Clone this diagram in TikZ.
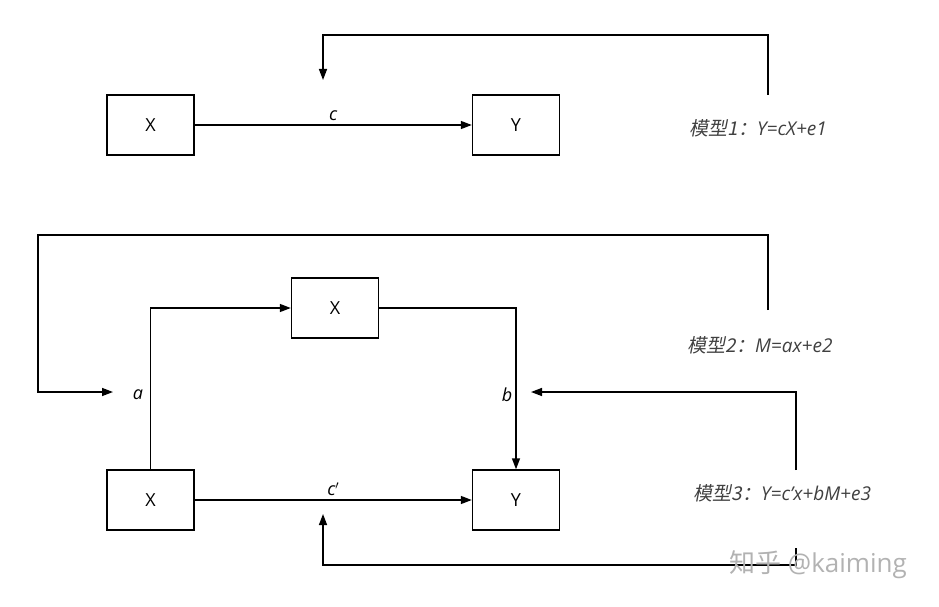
\documentclass[tikz,border=0pt]{standalone}
\usepackage{fontspec}
\setmainfont{Open Sans}
\newfontfamily\cjk{Noto Sans CJK SC}
\newfontfamily\cjkit[FakeSlant=0.2]{Noto Sans CJK SC}
\usetikzlibrary{arrows.meta}
\begin{document}
\begin{tikzpicture}[x=1pt,y=-1pt,
 box/.style={draw,line width=1.4pt,minimum width=87pt,minimum height=60pt,font=\fontsize{18}{18}\selectfont},
 arr/.style={line width=1.4pt,-{Triangle[length=11pt,width=8pt]}},
 lab/.style={font=\fontsize{18}{18}\selectfont\itshape},
 mod/.style={font=\fontsize{19}{19}\selectfont\itshape,text=black!75}]
\useasboundingbox (0,0) rectangle (939,607);
\node[box] (x1) at (150.5,125) {X};
\node[box] (y1) at (516,125) {Y};
\node[box] (xm) at (335,308) {X};
\node[box] (x2) at (150.5,500) {X};
\node[box] (y2) at (516,500) {Y};
\draw[arr] (x1) -- node[lab,above]{c} (y1);
\draw[arr] (x2) -- node[lab,above]{c$'$} (y2);
\draw[arr] (x2.north) |- (xm.west);
\draw[arr] (xm.east) -| (y2.north);
\node[mod,anchor=west] (m1) at (686,128) {{\cjkit 模型1：}Y=cX+e1};
\node[mod,anchor=west] (m2) at (684,345) {{\cjkit 模型2：}M=ax+e2};
\node[mod,anchor=west] (m3) at (690,493) {{\cjkit 模型3：}Y=c'x+bM+e3};
\node[lab] (a) at (138,395) {a};
\node[lab] (b) at (507,395) {b};
\coordinate (t1) at (768,95);
\coordinate (t2) at (768,310);
\coordinate (t3) at (796,470);
\coordinate (t4) at (796,548);
\coordinate (e1) at (323,80);
\coordinate (e2) at (113,392);
\coordinate (e3) at (531,392);
\coordinate (e4) at (323,514);
\draw[arr] (t1) |- (323,35) -- (e1);
\draw[arr] (t2) |- (38,235) |- (e2);
\draw[arr] (t3) |- (e3);
\draw[arr] (t4) |- (323,565) -- (e4);
\node[font=\fontsize{26}{26}\selectfont,text=black!30] (wm) at (818,565) {{\cjk 知乎} @kaiming};
\end{tikzpicture}
\end{document}
